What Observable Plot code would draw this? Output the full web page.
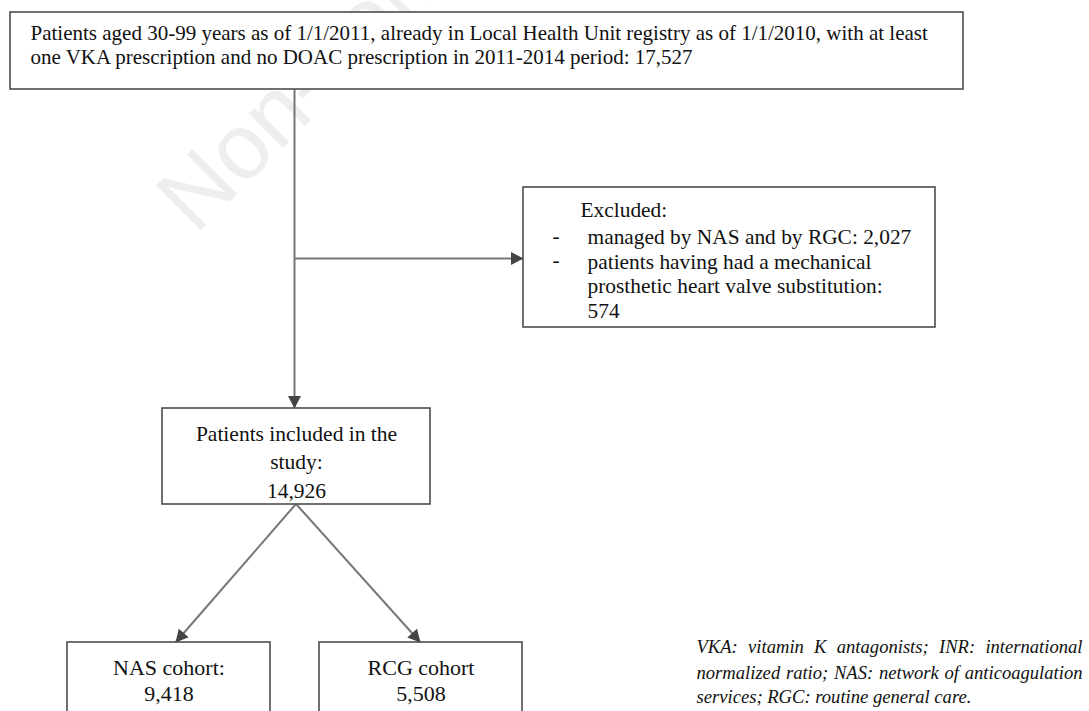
<!DOCTYPE html>
<html><head><meta charset="utf-8">
<script src="https://cdn.jsdelivr.net/npm/d3@7"></script>
<script src="https://cdn.jsdelivr.net/npm/@observablehq/plot@0.6"></script>
<style>html,body{margin:0;padding:0;background:#fff;overflow:hidden}</style>
</head><body><div id="chart"></div>
<script>
// ---- data ----
const eligibleLines = ["Patients aged 30-99 years as of 1/1/2011, already in Local Health Unit registry as of 1/1/2010, with at least",
                       "one VKA prescription and no DOAC prescription in 2011-2014 period:"];
const eligibleCount = 17527;
const exclusionTitle = "Excluded:";
const exclusionReasons = [["managed by NAS and by RGC:"], ["patients having had a mechanical", "prosthetic heart valve substitution:"]];
const exclusionCounts = [2027, 574];
const includedLines = ["Patients included in the", "study:"];
const includedCount = 14926;
const cohortLabels = ["NAS cohort:", "RCG cohort"];
const cohortCounts = [9418, 5508];
const captionLines = ["VKA: vitamin K antagonists; INR: international",
                      "normalized ratio; NAS: network of anticoagulation",
                      "services; RGC: routine general care."];
const watermark = "Non-commercial use only";

const fmt = d3.format(",");

// ---- layout (pixel frame) ----
const W = 1089, H = 711;
const boxes = [
  {x1: 10, x2: 963, y1: 12, y2: 89},
  {x1: 523, x2: 935, y1: 187, y2: 327},
  {x1: 162, x2: 430, y1: 408, y2: 504},
  {x1: 67, x2: 270, y1: 642, y2: 760},
  {x1: 319, x2: 522, y1: 642, y2: 760}
];
const links = [
  {x1: 294, y1: 89, x2: 294, y2: 408},
  {x1: 294, y1: 258, x2: 523, y2: 258},
  {x1: 295, y1: 504, x2: 175, y2: 642},
  {x1: 296, y1: 504, x2: 420, y2: 642}
];

const eligibleText = eligibleLines[0] + "\n" + eligibleLines[1] + " " + fmt(eligibleCount);
const exclText = [
  exclusionReasons[0].join("\n") + " " + fmt(exclusionCounts[0]),
  exclusionReasons[1].join("\n") + "\n" + fmt(exclusionCounts[1])
].join("\n");
const includedText = includedLines.join("\n") + "\n" + fmt(includedCount);
const cohorts = cohortLabels.map((l, i) => ({label: l + "\n" + fmt(cohortCounts[i]), x: [168.5, 420.5][i]}));
const captions = captionLines.map((t, i) => ({t, y: [647, 673, 697][i]}));

const arrowHead = {draw(ctx) { ctx.moveTo(0, 0); ctx.lineTo(6.5, 12.5); ctx.lineTo(-6.5, 12.5); ctx.closePath(); }};

const ink = "#111";
const chart = Plot.plot({
  width: W, height: H,
  marginTop: 0, marginRight: 0, marginBottom: 0, marginLeft: 0,
  x: {axis: null, domain: [0, W], range: [0, W]},
  y: {axis: null, domain: [0, H], range: [0, H]},
  style: {fontFamily: "'Liberation Serif', 'Times New Roman', serif", fontSize: "21px", background: "white", overflow: "hidden"},
  marks: [
    Plot.text([watermark], {x: 195, y: 235, text: d => d, rotate: -45, textAnchor: "start", lineAnchor: "bottom",
      fontSize: 92, fontFamily: "'Liberation Sans', Arial, sans-serif", fill: "#eeeeee"}),
    Plot.link(links, {x1: "x1", y1: "y1", x2: "x2", y2: "y2", stroke: "#777", strokeWidth: 2}),
    Plot.dot(links, {x: "x2", y: "y2", symbol: arrowHead, r: 5, fill: "#444", stroke: "none",
      rotate: d => Math.atan2(d.x2 - d.x1, -(d.y2 - d.y1)) * 180 / Math.PI}),
    Plot.rect(boxes, {x1: "x1", x2: "x2", y1: "y1", y2: "y2", fill: "white", stroke: "#4d4d4d", strokeWidth: 1.6}),
    Plot.text([eligibleText], {x: 30, y: 44, text: d => d, textAnchor: "start", lineAnchor: "middle", lineHeight: 1.14, fontSize: 21, fill: ink}),
    Plot.text([exclusionTitle], {x: 580, y: 210, text: d => d, textAnchor: "start", lineAnchor: "middle", fontSize: 21.4, fill: ink}),
    Plot.text(["-", "-"], {x: 552, y: (d, i) => [236, 260][i], text: d => d, textAnchor: "start", lineAnchor: "middle", fontSize: 21.4, fill: ink}),
    Plot.text([exclText], {x: 587, y: 272.5, text: d => d, textAnchor: "start", lineAnchor: "middle", lineHeight: 1.145, fontSize: 21.4, fill: ink}),
    Plot.text([includedText], {x: 296, y: 459.5, text: d => d, textAnchor: "middle", lineAnchor: "middle", lineHeight: 1.33, fontSize: 21.5, fill: ink}),
    Plot.text(cohorts, {x: "x", y: 679, text: "label", textAnchor: "middle", lineAnchor: "middle", lineHeight: 1.18, fontSize: 22, fill: ink}),
    Plot.text(captions, {x: 696, y: "y", text: "t", textAnchor: "start", lineAnchor: "middle", fontSize: 18.6, fontStyle: "italic", fill: ink})
  ]
});
document.getElementById("chart").append(chart);

// justify the first two caption lines to the right edge
const target = 1082 - 696;
d3.select(chart).selectAll("text").each(function() {
  const t = this.textContent;
  if (t === captionLines[0] || t === captionLines[1]) {
    const len = this.getComputedTextLength();
    const n = (t.match(/ /g) || []).length;
    if (n > 0) this.style.wordSpacing = Math.max(0, (target - len) / n) + "px";
  }
});
</script>
</body></html>
